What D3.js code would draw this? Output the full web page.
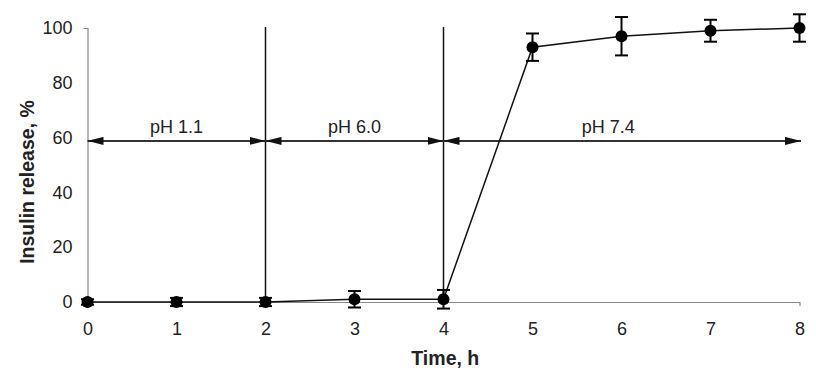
<!DOCTYPE html>
<html>
<head>
<meta charset="utf-8">
<script src="https://cdn.jsdelivr.net/npm/d3@7"></script>
<style>
  body { margin: 0; background: #fff; }
  text { font-family: "Liberation Sans", Arial, sans-serif; fill: #222; }
</style>
</head>
<body>
<div class="chart"></div>
<script>
// Data.
const times = [0, 1, 2, 3, 4, 5, 6, 7, 8];
const release = [0, 0, 0, 1, 1, 93, 97, 99, 100];
const errors = [1, 1.5, 1.5, 3, 3.4, 5, 7, 4, 5];
const xTicks = [0, 1, 2, 3, 4, 5, 6, 7, 8];
const yTicks = [0, 20, 40, 60, 80, 100];
const phNames = ["pH 1.1", "pH 6.0", "pH 7.4"];
const phStart = [0, 2, 4];
const phEnd = [2, 4, 8];
const phLabelAt = [1, 3, 5.85];
const phArrowLevel = 58.8;
const phaseLines = [2, 4];

const margin = { top: 28, right: 16, bottom: 88, left: 87.5 };
const width = 816 - margin.left - margin.right;
const height = 390 - margin.top - margin.bottom;

const svg = d3
  .select(".chart")
  .append("svg")
  .attr("width", 816)
  .attr("height", 390)
  .append("g")
  .attr("transform", `translate(${margin.left}, ${margin.top})`);

// Scales.
const xScale = d3.scaleLinear().domain([0, 8]).range([0, width - 0.5]);
const yScale = d3.scaleLinear().domain([0, 100]).range([height, 0]);

// Arrow heads.
const defs = svg.append("defs");
defs
  .append("marker")
  .attr("id", "head")
  .attr("viewBox", "0 0 16 8")
  .attr("refX", 16)
  .attr("refY", 4)
  .attr("markerWidth", 16)
  .attr("markerHeight", 8)
  .attr("markerUnits", "userSpaceOnUse")
  .attr("orient", "auto-start-reverse")
  .append("path")
  .attr("d", "M0,0 L16,4 L0,8 Z")
  .attr("fill", "#111");

// Axes.
const xAxis = d3
  .axisBottom(xScale)
  .tickValues(xTicks)
  .tickSize(0)
  .tickSizeOuter(4)
  .tickPadding(20);
const xAxisDraw = svg
  .append("g")
  .attr("class", "x axis")
  .attr("transform", `translate(0, ${height})`)
  .call(xAxis);

const yAxis = d3
  .axisLeft(yScale)
  .tickValues(yTicks)
  .tickSize(0)
  .tickSizeOuter(4)
  .tickPadding(15);
const yAxisDraw = svg.append("g").attr("class", "y axis").call(yAxis);

[xAxisDraw, yAxisDraw].forEach((g) => {
  g.attr("font-size", 18).attr("font-family", "'Liberation Sans', Arial, sans-serif");
  g.select(".domain").attr("stroke", "#888").attr("stroke-width", 1.2);
  g.selectAll("text").attr("fill", "#222");
});

// Axis titles.
svg
  .append("text")
  .attr("transform", `translate(${27 - margin.left}, ${height / 2 + 17}) rotate(-90)`)
  .attr("text-anchor", "middle")
  .attr("dominant-baseline", "central")
  .style("font-size", "19.5px")
  .style("font-weight", "bold")
  .text("Insulin release, %");

svg
  .append("text")
  .attr("x", xScale(4.02))
  .attr("y", height + 63)
  .attr("text-anchor", "middle")
  .style("font-size", "19.5px")
  .style("font-weight", "bold")
  .text("Time, h");

// Phase boundaries.
svg
  .append("g")
  .selectAll("line")
  .data(phaseLines)
  .enter()
  .append("line")
  .attr("x1", (d) => xScale(d))
  .attr("x2", (d) => xScale(d))
  .attr("y1", yScale(0))
  .attr("y2", yScale(100) - 1)
  .attr("stroke", "#111")
  .attr("stroke-width", 1.5);

// pH arrows and labels.
const phGroup = svg.append("g").attr("class", "ph");
phGroup
  .selectAll("line")
  .data(phNames)
  .enter()
  .append("line")
  .attr("x1", (d, i) => xScale(phStart[i]))
  .attr("x2", (d, i) => xScale(phEnd[i]) + (i === 2 ? 1.5 : 0))
  .attr("y1", yScale(phArrowLevel))
  .attr("y2", yScale(phArrowLevel))
  .attr("stroke", "#333")
  .attr("stroke-width", 2)
  .attr("marker-start", "url(#head)")
  .attr("marker-end", "url(#head)");

phGroup
  .selectAll("text")
  .data(phNames)
  .enter()
  .append("text")
  .attr("x", (d, i) => xScale(phLabelAt[i]))
  .attr("y", yScale(phArrowLevel) - 8)
  .attr("text-anchor", "middle")
  .style("font-size", "18px")
  .text((d) => d);

// Release curve.
const points = times.map((t, i) => ({ t: t, v: release[i], e: errors[i] }));

const lineGen = d3
  .line()
  .x((d) => xScale(d.t))
  .y((d) => yScale(d.v));

svg
  .append("path")
  .datum(points)
  .attr("d", lineGen)
  .attr("fill", "none")
  .attr("stroke", "#111")
  .attr("stroke-width", 1.5);

// Error bars.
const errGroup = svg.append("g").attr("class", "errors");
const bars = errGroup.selectAll("g").data(points).enter().append("g");
bars
  .append("line")
  .attr("x1", (d) => xScale(d.t))
  .attr("x2", (d) => xScale(d.t))
  .attr("y1", (d) => yScale(d.v - d.e))
  .attr("y2", (d) => yScale(d.v + d.e))
  .attr("stroke", "#000")
  .attr("stroke-width", 2);
[-1, 1].forEach((s) => {
  bars
    .append("line")
    .attr("x1", (d) => xScale(d.t) - 6.5)
    .attr("x2", (d) => xScale(d.t) + 6.5)
    .attr("y1", (d) => yScale(d.v + s * d.e))
    .attr("y2", (d) => yScale(d.v + s * d.e))
    .attr("stroke", "#000")
    .attr("stroke-width", 2);
});

// Markers.
svg
  .append("g")
  .selectAll("circle")
  .data(points)
  .enter()
  .append("circle")
  .attr("cx", (d) => xScale(d.t))
  .attr("cy", (d) => yScale(d.v))
  .attr("r", 6)
  .attr("fill", "#000");
</script>
</body>
</html>
